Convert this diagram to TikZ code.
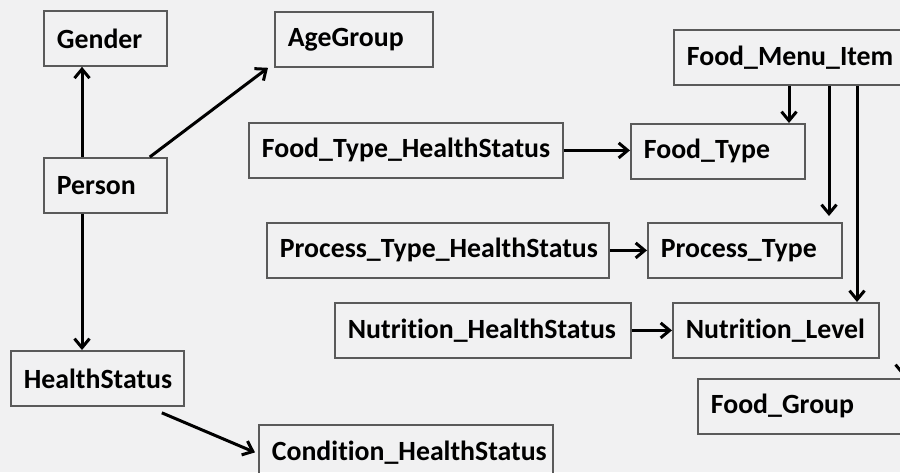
\documentclass[tikz,border=0pt]{standalone}
\usepackage{fontspec}
\setmainfont{Carlito}[Ligatures=NoCommon]
\usetikzlibrary{arrows.meta}
\definecolor{paper}{RGB}{241,241,242}
\definecolor{edge}{RGB}{90,90,90}
\begin{document}
\begin{tikzpicture}[x=1pt,y=-1pt,>={Straight Barb[length=9pt,width=15pt]},
  font=\fontsize{27.8}{30}\selectfont\bfseries,
  entity/.style={draw=edge,line width=1.8pt,anchor=north west,minimum height=55pt,
    inner xsep=13pt,inner ysep=0pt,align=left,text width=#1},
  link/.style={->,line width=3pt}]
\fill[paper] (0,0) rectangle (900,472);
\useasboundingbox (0,0) rectangle (900,472);
\clip (0,0) rectangle (900,472);
\node[entity=97pt] (gender) at (43,10) {Gender};
\node[entity=132pt] (agegroup) at (274,11) {AgeGroup};
\node[entity=97pt] (person) at (43,157) {Person};
\node[entity=147pt] (health) at (10,350) {HealthStatus};
\node[entity=268pt] (cond) at (258,424) {Condition\_HealthStatus};
\node[entity=288pt] (fths) at (248,122) {Food\_Type\_HealthStatus};
\node[entity=148pt] (foodtype) at (630,123) {Food\_Type};
\node[entity=211pt] (menuitem) at (673,29) {Food\_Menu\_Item};
\node[entity=316pt] (pths) at (266,222) {Process\_Type\_HealthStatus};
\node[entity=168pt] (proctype) at (647,222) {Process\_Type};
\node[entity=270pt] (nths) at (334,302) {Nutrition\_HealthStatus};
\node[entity=180pt] (nutlevel) at (672,302) {Nutrition\_Level};
\node[entity=207pt] (foodgroup) at (697,378) {Food\_Group};
\coordinate (p1) at ([xshift=39pt]person.north west);
\coordinate (p2) at ([xshift=39pt]person.south west);
\coordinate (m1) at ([xshift=116pt]menuitem.south west);
\coordinate (m2) at ([xshift=156pt]menuitem.south west);
\coordinate (m3) at ([xshift=184pt]menuitem.south west);
\coordinate (m4) at ([xshift=230pt]menuitem.south west);
\draw[link] (p1) -- (p1 |- gender.south);
\draw[link] ([xshift=-18pt]person.north east) -- ([xshift=-6pt]agegroup.south west);
\draw[link] (p2) -- (p2 |- health.north);
\draw[link] ([xshift=-23pt,yshift=-6pt]health.south east) -- ([xshift=-3pt]cond.west);
\draw[link] (fths.east) -- (fths.east -| foodtype.west);
\draw[link] (pths.east) -- (pths.east -| proctype.west);
\draw[link] (nths.east) -- (nths.east -| nutlevel.west);
\draw[link] (m1) -- (m1 |- foodtype.north);
\draw[link] (m2) -- ([yshift=6pt]m2 |- proctype.north);
\draw[link] (m3) -- (m3 |- nutlevel.north);
\draw[link] (m4) -- ([yshift=2pt]m4 |- foodgroup.north);
\end{tikzpicture}
\end{document}
